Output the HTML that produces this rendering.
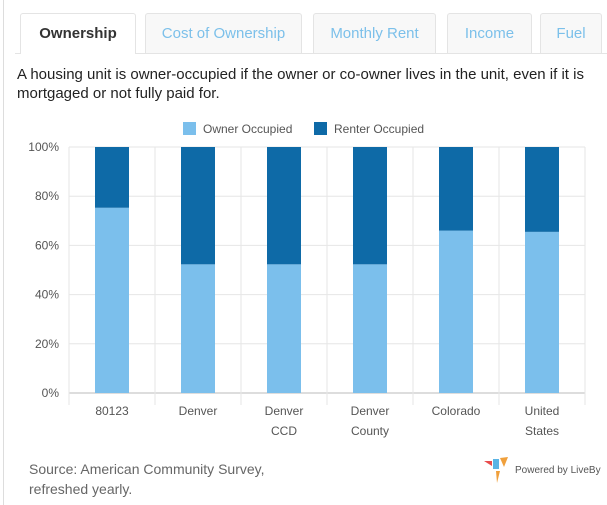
<!DOCTYPE html>
<html><head><meta charset="utf-8"><style>
body{margin:0;width:607px;height:505px;background:#fff;font-family:"Liberation Sans",sans-serif;position:relative;overflow:hidden}
.tab{position:absolute;top:13px;height:40px;border:1px solid #e4e4e4;border-bottom:none;background:#f8f8f8;color:#7cc0ea;font-size:15px;line-height:40px;text-align:center;border-radius:3px 3px 0 0;box-sizing:border-box}
.tab.active{background:#fff;color:#333;font-weight:bold;height:41px}
</style></head><body>
<div style="position:absolute;left:0;top:0;width:3px;height:505px;border-right:1px solid #ddd"></div>
<div style="position:absolute;left:15px;top:53px;width:592px;height:1px;background:#e4e4e4"></div>
<div class="tab active" style="left:20px;width:116px">Ownership</div>
<div class="tab" style="left:145px;width:157px">Cost of Ownership</div>
<div class="tab" style="left:313px;width:123px">Monthly Rent</div>
<div class="tab" style="left:447px;width:85px">Income</div>
<div class="tab" style="left:540px;width:62px">Fuel</div>
<div style="position:absolute;left:17px;top:65px;width:590px;font-size:15px;line-height:19px;color:#222">A housing unit is owner-occupied if the owner or co-owner lives in the unit, even if it is mortgaged or not fully paid for.</div>
<svg id="chart" width="607" height="505" style="position:absolute;left:0;top:0;font-family:'Liberation Sans',sans-serif">
<g>
<rect x="183" y="122" width="13" height="13" fill="#7bbfec"/>
<text x="203" y="133" font-size="12" fill="#555">Owner Occupied</text>
<rect x="314" y="122" width="13" height="13" fill="#0e6aa7"/>
<text x="334" y="133" font-size="12" fill="#555">Renter Occupied</text>
</g>
</svg>
<div style="position:absolute;left:29px;top:459px;font-size:14px;line-height:20px;color:#666">Source: American Community Survey,<br>refreshed yearly.</div>
<svg width="30" height="26" style="position:absolute;left:484px;top:457px">
<polygon points="0,4 8,4 8,9" fill="#e84c4c"/><polygon points="9,2 15,2 15,12 9,12" fill="#5ab4e5"/><polygon points="16,1 24,0 20,10" fill="#f0a03c"/><polygon points="12,14 16,14 13,26" fill="#f0a03c"/>
</svg>
<div style="position:absolute;left:515px;top:465px;font-size:10px;color:#555">Powered by LiveBy</div>
<script>
const categories=[["80123"],["Denver"],["Denver","CCD"],["Denver","County"],["Colorado"],["United","States"]];
const ownerValues=[75.3,52.3,52.3,52.3,66,65.5];
const renterValues=[24.7,47.7,47.7,47.7,34,34.5];
const yTicks=[0,20,40,60,80,100];
const ns="http://www.w3.org/2000/svg";
const svg=document.getElementById('chart');
const x0=69,x1=585,y0=393,y1=147;
const band=(x1-x0)/categories.length;
const xc=i=>x0+band*(i+0.5);
const y=v=>y0-(v/100)*(y0-y1);
function mk(t,a){const e=document.createElementNS(ns,t);for(const k in a)e.setAttribute(k,a[k]);svg.appendChild(e);return e;}
yTicks.forEach(t=>{
 const l=mk('line',{x1:x0,x2:x1,y1:y(t),y2:y(t),stroke:t===0?'#bbb':'#e6e6e6'});
 
 
 const tx=mk('text',{x:x0-10,y:y(t)+4,'font-size':12,fill:'#555','text-anchor':'end'});
 tx.textContent=t+'%';
 
 
});
for(let i=0;i<=categories.length;i++){
 const gx=x0+band*i;
 const l=mk('line',{x1:gx,x2:gx,y1:y1,y2:y0+12,stroke:'#e6e6e6'});
 
 
}
const bw=34;
categories.forEach((c,i)=>{
 const o=mk('rect',{x:xc(i)-bw/2,y:y(ownerValues[i]),width:bw,height:y0-y(ownerValues[i]),fill:'#7bbfec'});
 
 
 const r=mk('rect',{x:xc(i)-bw/2,y:y(ownerValues[i]+renterValues[i]),width:bw,height:y(ownerValues[i])-y(ownerValues[i]+renterValues[i]),fill:'#0e6aa7'});
 
 
 c.forEach((line,j)=>{
  const t=mk('text',{x:xc(i),y:415+j*20,'font-size':12,fill:'#555','text-anchor':'middle'});
  t.textContent=line;
  
  
 });
});
</script>
</body></html>
